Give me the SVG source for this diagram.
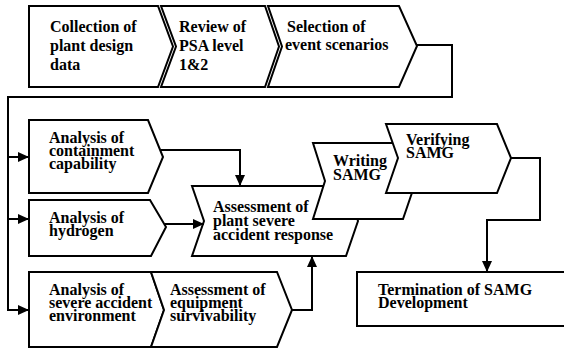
<svg xmlns="http://www.w3.org/2000/svg" width="564" height="349" viewBox="0 0 564 349">
<style>
.shape{fill:#fff;stroke:#000;stroke-width:2;stroke-linejoin:miter}
.conn{fill:none;stroke:#000;stroke-width:2}
.t{font-family:'Liberation Serif','Times New Roman','DejaVu Serif',serif;font-weight:700;font-size:16px;fill:#000}
</style>
<defs>
<marker id="arr" markerUnits="userSpaceOnUse" markerWidth="12" markerHeight="10" refX="11" refY="5" orient="auto">
<path d="M0,0 L11,5 L0,10 Z" fill="#000"/>
</marker>
</defs>
<rect width="564" height="349" fill="#fff"/>

<g id="n-collection">
<polygon class="shape" points="29,6 158,6 173,46.5 158,87 29,87"/>
<text class="t" font-family="Liberation Serif, serif" x="50" y="32">Collection of</text>
<text class="t" font-family="Liberation Serif, serif" x="50" y="51">plant design</text>
<text class="t" font-family="Liberation Serif, serif" x="50" y="70">data</text>
</g>
<g id="n-review">
<polygon class="shape" points="161,6 265,6 279,46.5 265,87 161,87 176,46.5"/>
<text class="t" font-family="Liberation Serif, serif" x="179" y="32">Review of</text>
<text class="t" font-family="Liberation Serif, serif" x="179" y="51">PSA level</text>
<text class="t" font-family="Liberation Serif, serif" x="179" y="70">1&amp;2</text>
</g>
<g id="n-selection">
<polygon class="shape" points="268,6 399,6 417,46 399,87 268,87 282,46.5"/>
<text class="t" font-family="Liberation Serif, serif" x="287" y="32">Selection of</text>
<text class="t" font-family="Liberation Serif, serif" x="285" y="50">event scenarios</text>
</g>

<g id="n-containment">
<polygon class="shape" points="29,120 148,120 163,157 148,193 29,193"/>
<text class="t" font-family="Liberation Serif, serif" x="49" y="143">Analysis of</text>
<text class="t" font-family="Liberation Serif, serif" x="49" y="156">containment</text>
<text class="t" font-family="Liberation Serif, serif" x="49" y="169">capability</text>
</g>
<g id="n-hydrogen">
<polygon class="shape" points="29,200 150,200 166,227 151,256 29,256"/>
<text class="t" font-family="Liberation Serif, serif" x="49" y="223">Analysis of</text>
<text class="t" font-family="Liberation Serif, serif" x="49" y="236">hydrogen</text>
</g>
<g id="n-environment">
<polygon class="shape" points="29,272 151,272 164,310 151,347 29,347"/>
<text class="t" font-family="Liberation Serif, serif" x="49" y="295">Analysis of</text>
<text class="t" font-family="Liberation Serif, serif" x="49" y="308">severe accident</text>
<text class="t" font-family="Liberation Serif, serif" x="49" y="321">environment</text>
</g>
<g id="n-equipment">
<polygon class="shape" points="151,272 277,272 292,310 277,347 151,347 164,310"/>
<text class="t" font-family="Liberation Serif, serif" x="170" y="295">Assessment of</text>
<text class="t" font-family="Liberation Serif, serif" x="170" y="308">equipment</text>
<text class="t" font-family="Liberation Serif, serif" x="170" y="321">survivability</text>
</g>

<g id="n-plant">
<polygon class="shape" points="192,186 346,186 358,221 346,256 192,256 204,221"/>
<text class="t" font-family="Liberation Serif, serif" x="213" y="212">Assessment of</text>
<text class="t" font-family="Liberation Serif, serif" x="213" y="226">plant severe</text>
<text class="t" font-family="Liberation Serif, serif" x="213" y="240">accident response</text>
</g>
<g id="n-writing">
<polygon class="shape" points="313,143 403,143 416,181 403,219 313,219 325,181"/>
<text class="t" font-family="Liberation Serif, serif" x="333" y="166">Writing</text>
<text class="t" font-family="Liberation Serif, serif" x="333" y="180">SAMG</text>
</g>
<g id="n-verifying">
<polygon class="shape" points="386,124 497,124 511,158 497,193 386,193 398,158"/>
<text class="t" font-family="Liberation Serif, serif" x="406" y="145">Verifying</text>
<text class="t" font-family="Liberation Serif, serif" x="406" y="158">SAMG</text>
</g>
<g id="n-termination">
<rect class="shape" x="357" y="272" width="220" height="54"/>
<text class="t" font-family="Liberation Serif, serif" x="378" y="295">Termination of SAMG</text>
<text class="t" font-family="Liberation Serif, serif" x="378" y="308">Development</text>
</g>

<g id="connectors">
<polyline class="conn" points="417,45 452,45 452,97 8,97 8,310 29,310" marker-end="url(#arr)"/>
<line class="conn" x1="8" y1="157" x2="29" y2="157" marker-end="url(#arr)"/>
<line class="conn" x1="8" y1="219" x2="29" y2="219" marker-end="url(#arr)"/>
<polyline class="conn" points="161,150 240,150 240,186" marker-end="url(#arr)"/>
<line class="conn" x1="165" y1="224" x2="204" y2="224" marker-end="url(#arr)"/>
<polyline class="conn" points="292,310 312,310 312,256" marker-end="url(#arr)"/>
<polyline class="conn" points="511,158 540,158 540,220 487,220 487,272" marker-end="url(#arr)"/>
</g>
</svg>
